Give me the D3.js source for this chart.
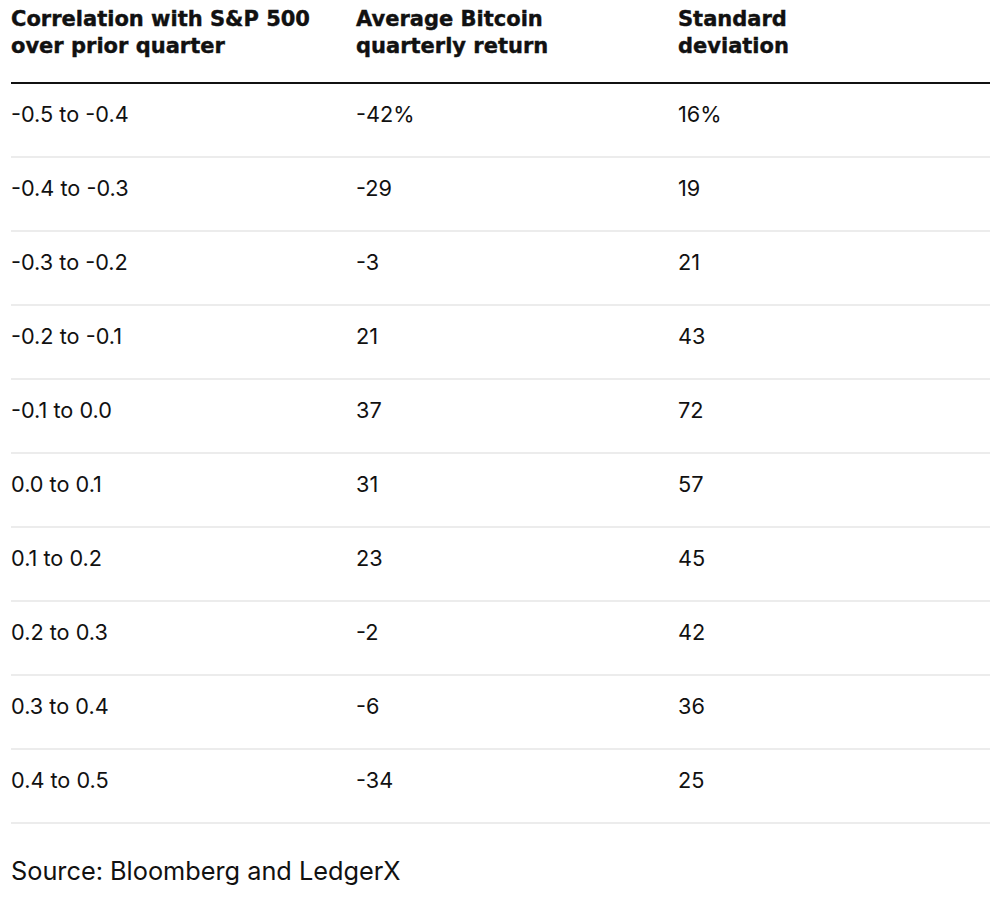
<!DOCTYPE html>
<html><head><meta charset="utf-8">
<script src="https://cdn.jsdelivr.net/npm/d3@7"></script>
<style>
html,body{margin:0;padding:0;background:#fff;}
</style></head>
<body>
<svg id="chart" width="1002" height="898"></svg>
<script>
const headers = [["Correlation with S&P 500","over prior quarter"],["Average Bitcoin","quarterly return"],["Standard","deviation"]];
const correlationRanges = ["-0.5 to -0.4","-0.4 to -0.3","-0.3 to -0.2","-0.2 to -0.1","-0.1 to 0.0","0.0 to 0.1","0.1 to 0.2","0.2 to 0.3","0.3 to 0.4","0.4 to 0.5"];
const avgReturn = ["-42%","-29","-3","21","37","31","23","-2","-6","-34"];
const stdDev = ["16%","19","21","43","72","57","45","42","36","25"];
const source = "Source: Bloomberg and LedgerX";

const svg = d3.select("#chart");
const left = 11, right = 990;
const colStarts = [11, 356, 678];
const y = d3.scaleBand().domain(d3.range(correlationRanges.length)).range([83, 823]).padding(0);

const headFont = "'DejaVu Sans', sans-serif";
const bodyFont = "'Inter', sans-serif";

headers.forEach((lines, i) => {
  lines.forEach((t, j) => {
    svg.append("text").attr("x", colStarts[i]).attr("y", 26 + j*27)
      .attr("font-family", headFont).attr("font-weight", 700).attr("font-size", 21)
      .attr("fill", "#111").attr("stroke", "#111").attr("stroke-width", 0.4).text(t);
  });
});
svg.append("line").attr("x1", left).attr("x2", right).attr("y1", 83).attr("y2", 83)
  .attr("stroke", "#111").attr("stroke-width", 2);

const rows = correlationRanges.map((c, i) => [c, avgReturn[i], stdDev[i]]);
const g = svg.selectAll("g.row").data(rows).join("g").attr("class","row")
  .attr("transform", (d,i) => `translate(0,${y(i)})`);
g.append("line").attr("x1", left).attr("x2", right)
  .attr("y1", y.bandwidth()).attr("y2", y.bandwidth())
  .attr("stroke", "#e6e6e6").attr("stroke-width", 1.5);
g.selectAll("text").data(d => d).join("text")
  .attr("x", (d,i) => colStarts[i]).attr("y", 39)
  .attr("font-family", bodyFont).attr("font-size", 21.7).attr("fill", "#111")
  .text(d => d);

svg.append("text").attr("x", left).attr("y", 880)
  .attr("font-family", bodyFont).attr("font-size", 25.3).attr("fill", "#111").text(source);
</script>
</body></html>
